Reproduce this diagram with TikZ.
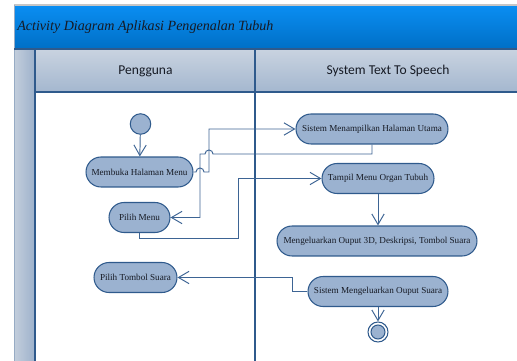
\documentclass[tikz,border=0pt]{standalone}
\usepackage{fontspec}
\setmainfont{Liberation Serif}
\newfontfamily\headfont{Carlito}
\usetikzlibrary{arrows.meta}
\definecolor{adLine}{HTML}{2F5A8C}
\definecolor{adWire}{HTML}{3D6494}
\definecolor{adFill}{HTML}{9BB2D0}
\definecolor{adInk}{HTML}{161A24}
\definecolor{adTitleTop}{HTML}{0A8EF2}
\definecolor{adTitleBot}{HTML}{006FC6}
\definecolor{adHeadTop}{HTML}{C9D3E0}
\definecolor{adHeadBot}{HTML}{A4B7CF}
\definecolor{adSideL}{HTML}{C3CEDC}
\definecolor{adSideR}{HTML}{9DB1CB}
\tikzset{
  actbox/.style={draw=adLine, fill=adFill, rounded corners=0.3cm, line width=0.6pt,
                 minimum height=0.6cm, inner xsep=2pt, text=adInk,
                 font=\fontsize{5.2}{6}\selectfont},
  startdot/.style={circle, draw=adLine, fill=adFill, line width=0.6pt,
                   minimum size=0.41cm, inner sep=0pt},
  enddot/.style={circle, draw=adLine, fill=white, line width=0.6pt,
                 minimum size=0.4cm, inner sep=0pt,
                 path picture={\draw[adLine, fill=adFill, line width=0.6pt]
                   (path picture bounding box.center) circle (0.14cm);}},
  lanehead/.style={font=\headfont\fontsize{7.7}{9}\selectfont, text=adInk},
  flowarrow/.style={-{Straight Barb[length=6pt, width=7pt]}, draw=adWire, line width=0.55pt}
}

\begin{document}
\begin{tikzpicture}[x=0.02cm, y=-0.02cm]
\useasboundingbox (0,0) rectangle (517,361);
\clip (0,0) rectangle (517,361);

% pool frame
\shade[left color=adSideL, right color=adSideR] (14,49) rectangle (35,361);
\shade[top color=adHeadTop, bottom color=adHeadBot] (35,49) rectangle (517,92);
\shade[top color=adTitleTop, bottom color=adTitleBot] (14,5) rectangle (517,49);
\draw[gray!45, line width=0.8pt] (14,5) -- (517,5);
\draw[adSideL!70!adLine, line width=0.5pt] (14,5) -- (14,361);
\draw[adLine, line width=0.6pt] (14,49) -- (517,49) (35,92) -- (517,92)
  (35,49) -- (35,361) (255,49) -- (255,361);

\node[anchor=west, inner sep=0pt, text=adInk, font=\itshape\fontsize{8}{10}\selectfont]
  (title) at (17,27) {Activity Diagram Aplikasi Pengenalan Tubuh};
\node[lanehead] (hdUser) at (145.5,71) {Pengguna};
\node[lanehead] (hdSys) at (388,71) {System Text To Speech};

% activities
\node[startdot] (start) at (140.5,124) {};
\node[actbox, minimum width=2.14cm] (memb) at (139.5,172) {Membuka Halaman Menu};
\node[actbox, minimum width=1.22cm] (pilih) at (139.5,217.5) {Pilih Menu};
\node[actbox, minimum width=1.66cm] (tombol) at (135.5,277.5) {Pilih Tombol Suara};
\node[actbox, minimum width=3.04cm] (sis) at (372,129) {Sistem Menampilkan Halaman Utama};
\node[actbox, minimum width=2.24cm] (tampil) at (378,178.5) {Tampil Menu Organ Tubuh};
\node[actbox, minimum width=4cm] (meng) at (377,241) {Mengeluarkan Ouput 3D, Deskripsi, Tombol Suara};
\node[actbox, minimum width=2.8cm] (suara) at (378,291.5) {Sistem Mengeluarkan Ouput Suara};
\node[enddot] (end) at (378,332) {};

% flows
\draw[flowarrow] (start) -- (memb);
\draw[flowarrow] (memb.east) -- (196,172) arc[start angle=180, end angle=0, radius=0.08cm]
  -- (209,172) |- (sis.west);
\draw[flowarrow] (sis.south) |- (213,154) arc[start angle=0, end angle=180, radius=0.08cm]
  -- (200,154) |- (pilih.east);
\draw[flowarrow] (pilih.south) |- (238,238) |- (tampil.west);
\draw[flowarrow] (tampil.south) -- (tampil.south |- meng.north);
\draw[flowarrow] (suara.west) -| (292,277.5) -- (tombol.east);
\draw[flowarrow] (suara.south) -- (suara.south |- end.north);

\end{tikzpicture}
\end{document}
